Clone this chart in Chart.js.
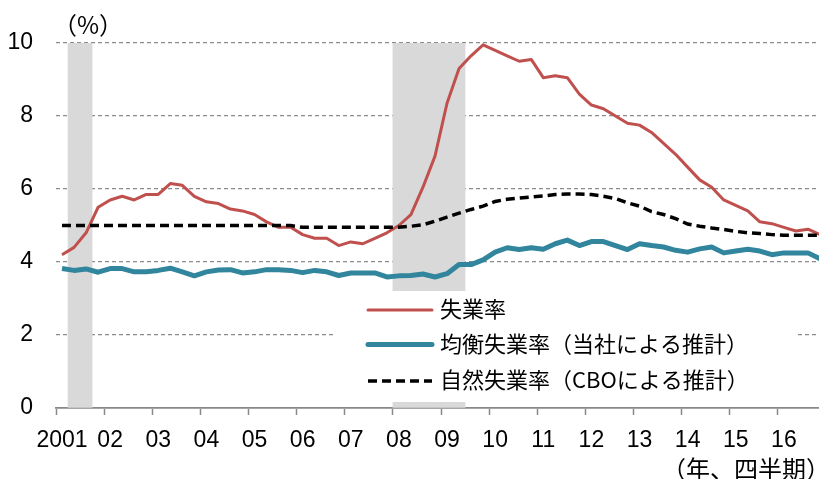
<!DOCTYPE html>
<html><head><meta charset="utf-8">
<script src="https://cdn.jsdelivr.net/npm/chart.js@4"></script>
<style>
html{margin:0;padding:0;overflow:hidden;background:#fff}
body{margin:0;padding:0;background:#fff;width:826px;height:479px}
#wrap{width:826px;height:479px}
canvas{display:block;width:826px;height:479px}
</style></head>
<body>
<div id="wrap"><canvas id="c" width="826" height="479"></canvas></div>
<script>
// ---- data ----
const years = ['2001','2002','2003','2004','2005','2006','2007','2008','2009','2010','2011','2012','2013','2014','2015','2016'];
const yearTickLabels = ['2001','02','03','04','05','06','07','08','09','10','11','12','13','14','15','16'];
const quarters = years.flatMap(y => ['Q1','Q2','Q3','Q4'].map(q => y + q));

const seriesNames = ['失業率', '均衡失業率（当社による推計）', '自然失業率（CBOによる推計）'];

const unemployment = [
  4.2,4.4,4.8,5.5, 5.7,5.8,5.7,5.85, 5.85,6.15,6.1,5.8, 5.65,5.6,5.45,5.4,
  5.3,5.1,4.95,4.95, 4.75,4.65,4.65,4.45, 4.55,4.5,4.65,4.8, 5.0,5.3,6.05,6.9,
  8.35,9.3,9.65,9.95, 9.8,9.65,9.5,9.55, 9.05,9.1,9.05,8.6, 8.3,8.2,8.0,7.8,
  7.75,7.55,7.25,6.95, 6.6,6.25,6.05,5.7, 5.55,5.4,5.1,5.05, 4.95,4.85,4.9,4.75
];
const equilibrium = [
  3.82,3.77,3.81,3.72, 3.82,3.82,3.73,3.73, 3.77,3.83,3.73,3.62, 3.73,3.78,3.79,3.7,
  3.73,3.79,3.79,3.77, 3.71,3.77,3.73,3.63, 3.7,3.7,3.7,3.59, 3.62,3.63,3.67,3.59,
  3.68,3.93,3.93,4.06, 4.27,4.39,4.34,4.39, 4.35,4.5,4.6,4.45, 4.56,4.56,4.45,4.34,
  4.5,4.45,4.41,4.32, 4.27,4.36,4.41,4.25, 4.3,4.35,4.3,4.2, 4.25,4.25,4.25,4.09
];
const natural = [
  5.0,5.0,5.0,5.0, 5.0,5.0,5.0,5.0, 5.0,5.0,5.0,5.0, 5.0,5.0,5.0,5.0,
  5.0,5.0,5.0,5.0, 4.95,4.95,4.95,4.95, 4.95,4.95,4.95,4.95, 4.95,4.98,5.02,5.12,
  5.23,5.34,5.44,5.53, 5.66,5.72,5.75,5.78, 5.81,5.85,5.86,5.86, 5.85,5.8,5.74,5.62,
  5.53,5.38,5.3,5.19, 5.04,4.98,4.93,4.89, 4.84,4.8,4.78,4.75, 4.73,4.73,4.73,4.73
];
// recession shading (NBER): 10 = shaded up to top of axis
const recession = [
  null,10,10,null, null,null,null,null, null,null,null,null, null,null,null,null,
  null,null,null,null, null,null,null,null, null,null,null,null, 10,10,10,10,
  10,10,null,null, null,null,null,null, null,null,null,null, null,null,null,null,
  null,null,null,null, null,null,null,null, null,null,null,null, null,null,null,null
];
const yTicks = [0,2,4,6,8,10];

// ---- styles ----
const NUM_FONT = '"Liberation Sans", Arial, sans-serif';
const JP_FONT = '"Noto Sans CJK JP", "Noto Sans", sans-serif';
const RED = '#C0504D', TEAL = '#31859C', BLACK = '#000000', GREY_BAND = '#D9D9D9';

const overlay = {
  id: 'overlay',
  afterDatasetsDraw(chart) {
    const ctx = chart.ctx;
    ctx.save();
    // legend box (white background)
    ctx.fillStyle = '#ffffff';
    ctx.fillRect(333, 291, 463, 111);
    const rows = [310, 344.5, 381];
    const dsIdx = [0, 1, 2];
    rows.forEach((y, k) => {
      const ds = chart.data.datasets[dsIdx[k]];
      ctx.beginPath();
      ctx.strokeStyle = ds.borderColor;
      ctx.lineWidth = ds.borderWidth;
      ctx.setLineDash(ds.borderDash || []);
      ctx.lineCap = ds.borderDash ? 'butt' : 'round';
      ctx.moveTo(368, y);
      ctx.lineTo(432, y);
      ctx.stroke();
      ctx.setLineDash([]);
      ctx.fillStyle = '#000';
      ctx.font = '22px ' + JP_FONT;
      ctx.textAlign = 'left';
      ctx.textBaseline = 'middle';
      ctx.fillText(ds.label, 440, y - 1);
    });
    ctx.restore();
  },
  afterDraw(chart) {
    const ctx = chart.ctx;
    ctx.save();
    ctx.fillStyle = '#000';
    ctx.textBaseline = 'middle';
    ctx.font = '24px ' + JP_FONT;
    ctx.textAlign = 'left';
    ctx.fillText('（%）', 53, 25);
    ctx.font = '24px ' + JP_FONT;
    ctx.textAlign = 'right';
    ctx.fillText('（年、四半期）', 830, 469);
    ctx.restore();
  }
};

new Chart(document.getElementById('c'), {
  data: {
    labels: quarters,
    datasets: [
      { type: 'line', label: seriesNames[0], data: unemployment, borderColor: RED, borderWidth: 3,
        pointRadius: 0, tension: 0, borderJoinStyle: 'round', order: 2 },
      { type: 'line', label: seriesNames[1], data: equilibrium, borderColor: TEAL, borderWidth: 5,
        pointRadius: 0, tension: 0, borderJoinStyle: 'round', order: 3 },
      { type: 'line', label: seriesNames[2], data: natural, borderColor: BLACK, borderWidth: 3.5,
        borderDash: [9, 5], pointRadius: 0, tension: 0, order: 1 },
      { type: 'bar', label: '景気後退期', data: recession, backgroundColor: GREY_BAND,
        barPercentage: 1, categoryPercentage: 1, order: 10 }
    ]
  },
  options: {
    responsive: false,
    animation: false,
    devicePixelRatio: 1,
    layout: { padding: { top: 43, right: 0, bottom: 0, left: 0 } },
    plugins: { legend: { display: false }, tooltip: { enabled: false } },
    scales: {
      x: {
        type: 'category',
        offset: true,
        grid: {
          offset: true,
          drawOnChartArea: false,
          drawTicks: true,
          tickLength: 7,
          tickWidth: 1.5,
          tickColor: (c) => (c.index % 4 === 0 ? '#898989' : 'rgba(0,0,0,0)'),
          color: 'rgba(0,0,0,0)'
        },
        border: { display: true, color: '#898989', width: 1.8 },
        ticks: {
          autoSkip: false,
          maxRotation: 0,
          minRotation: 0,
          padding: 12,
          color: '#000',
          font: { family: NUM_FONT, size: 23 },
          callback: (v, i) => (i % 4 === 0 ? yearTickLabels[i / 4] : '')
        },
        afterFit: (s) => { s.height = 71; s.paddingRight = 0; s.paddingLeft = 0; }
      },
      y: {
        min: 0,
        max: 10,
        afterBuildTicks: (s) => { s.ticks = yTicks.map(v => ({ value: v })); },
        grid: {
          drawTicks: false,
          color: (c) => (c.tick && c.tick.value === 0 ? 'rgba(0,0,0,0)' : '#8c8c8c'),
          lineWidth: 1.2
        },
        border: { display: false, dash: [4, 3] },
        ticks: {
          padding: 23,
          color: '#000',
          font: { family: NUM_FONT, size: 23 }
        },
        afterFit: (s) => { s.width = 56; }
      }
    }
  },
  plugins: [overlay]
});
</script>
</body></html>
